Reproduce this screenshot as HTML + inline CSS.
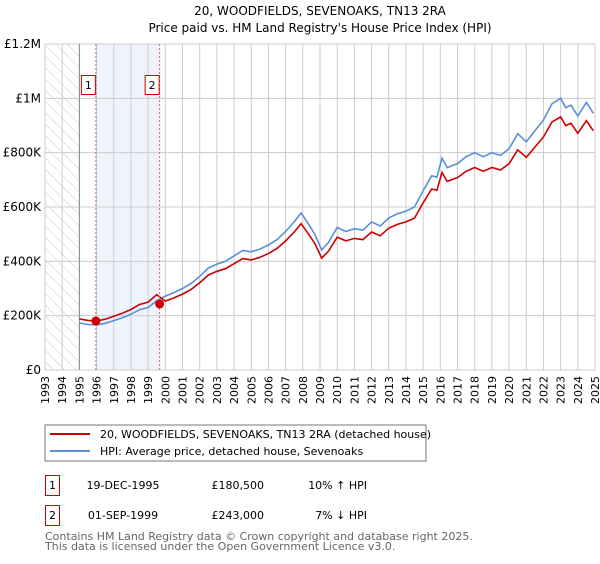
<!DOCTYPE html>
<html><head><meta charset="utf-8"><style>
body{margin:0;background:#fff;width:600px;height:560px;overflow:hidden;font-family:"DejaVu Sans","Liberation Sans",sans-serif}
svg text{font-family:"DejaVu Sans","Liberation Sans",sans-serif}
</style></head><body>
<svg id="c" width="600" height="560" xmlns="http://www.w3.org/2000/svg">
<defs><pattern id="hatch" width="8" height="8" patternUnits="userSpaceOnUse" patternTransform="rotate(-45)"><line x1="0" y1="0" x2="0" y2="8" stroke="#ccc" stroke-width="1"/></pattern></defs>
<text x="320" y="15" text-anchor="middle" font-size="12" fill="#000">20, WOODFIELDS, SEVENOAKS, TN13 2RA</text>
<text x="320" y="32" text-anchor="middle" font-size="12" fill="#000">Price paid vs. HM Land Registry's House Price Index (HPI)</text>
<g id="plot"></g>
<rect x="45" y="425" width="381" height="36" fill="#fff" stroke="#777"/>
<line x1="50" y1="434" x2="90" y2="434" stroke="#cc0000" stroke-width="2"/>
<text x="100" y="438" font-size="11">20, WOODFIELDS, SEVENOAKS, TN13 2RA (detached house)</text>
<line x1="50" y1="451" x2="90" y2="451" stroke="#5b8fd6" stroke-width="2"/>
<text x="100" y="455" font-size="11">HPI: Average price, detached house, Sevenoaks</text>
<g font-size="11">
<rect x="45.5" y="475.5" width="14" height="20" fill="none" stroke="#cc0000"/>
<text x="52.5" y="489" text-anchor="middle">1</text>
<text x="123" y="489" text-anchor="middle">19-DEC-1995</text>
<text x="264" y="489" text-anchor="end">£180,500</text>
<text x="367" y="489" text-anchor="end">10% ↑ HPI</text>
<rect x="45.5" y="505.5" width="14" height="20" fill="none" stroke="#cc0000"/>
<text x="52.5" y="519" text-anchor="middle">2</text>
<text x="123" y="519" text-anchor="middle">01-SEP-1999</text>
<text x="264" y="519" text-anchor="end">£243,000</text>
<text x="367" y="519" text-anchor="end">7% ↓ HPI</text>
</g>
<text x="45" y="540" font-size="11" fill="#666">Contains HM Land Registry data © Crown copyright and database right 2025.</text>
<text x="45" y="550" font-size="11" fill="#666">This data is licensed under the Open Government Licence v3.0.</text>
</svg>
<script>
const hpiYears=[1995,1995.5,1996,1996.5,1997,1997.5,1998,1998.5,1999,1999.5,2000,2000.5,2001,2001.5,2002,2002.5,2003,2003.5,2004,2004.5,2005,2005.5,2006,2006.5,2007,2007.5,2007.9,2008.3,2008.7,2009.1,2009.5,2010,2010.5,2011,2011.5,2012,2012.5,2013,2013.5,2014,2014.5,2015,2015.5,2015.8,2016.1,2016.4,2017,2017.5,2018,2018.5,2019,2019.5,2020,2020.5,2021,2021.5,2022,2022.5,2023,2023.3,2023.6,2024,2024.5,2024.9];
const hpiValues=[173,168,166,172,182,192,205,222,230,255,272,285,300,318,345,375,390,400,420,440,435,445,460,480,510,545,578,540,500,442,470,525,510,520,515,545,530,560,575,585,600,660,715,710,780,745,760,785,800,785,800,790,815,870,840,880,920,980,1000,965,975,935,985,945];
const saleYears=[1995.96,1999.67];
const salePrices=[180500,243000];
const saleLabels=["1","2"];
const yTicks=[0,200000,400000,600000,800000,1000000,1200000];
const yTickLabels=["£0","£200K","£400K","£600K","£800K","£1M","£1.2M"];
const xTicks=[1993,1994,1995,1996,1997,1998,1999,2000,2001,2002,2003,2004,2005,2006,2007,2008,2009,2010,2011,2012,2013,2014,2015,2016,2017,2018,2019,2020,2021,2022,2023,2024,2025];
const X0=45,X1=595,Y0=370,Y1=44;
const xs=t=>X0+(t-1993)/(2025-1993)*(X1-X0);
const ys=v=>Y0-v/1200000*(Y0-Y1);
const NS="http://www.w3.org/2000/svg";
const g=document.getElementById('plot');
function mk(tag,attrs,parent){const e=document.createElementNS(NS,tag);for(const k in attrs)e.setAttribute(k,attrs[k]);(parent||g).appendChild(e);return e;}
let e;
e=mk('rect',{x:X0,y:Y1,width:xs(1995)-X0,height:Y0-Y1,fill:'url(#hatch)'});


e=mk('rect',{x:xs(saleYears[0]),y:Y1,width:xs(saleYears[1])-xs(saleYears[0]),height:Y0-Y1,fill:'#eef3fc'});


xTicks.forEach(t=>{
 e=mk('line',{x1:xs(t),x2:xs(t),y1:Y1,y2:Y0,stroke:'#ccc'});
 
 
 e=mk('text',{x:0,y:0,'font-size':11,'text-anchor':'end',transform:`translate(${xs(t)+4},${Y0+6}) rotate(-90)`});
 e.textContent=t;
 
 
});
yTicks.forEach((v,i)=>{
 e=mk('line',{x1:X0,x2:X1,y1:ys(v),y2:ys(v),stroke:'#ccc'});
 
 
 e=mk('text',{x:X0-4,y:ys(v)+4,'font-size':12,'text-anchor':'end'});
 e.textContent=yTickLabels[i];
 
 
});
e=mk('line',{x1:xs(1995),x2:xs(1995),y1:Y1,y2:Y0,stroke:'#888'});


// hpi line
let hp=hpiYears.map((t,i)=>`${xs(t).toFixed(1)},${ys(hpiValues[i]*1000).toFixed(1)}`).join(' ');
e=mk('polyline',{points:hp,fill:'none',stroke:'#5b8fd6','stroke-width':1.6});


// price line: indexed from sales
function hpiAt(t){for(let i=1;i<hpiYears.length;i++){if(t<=hpiYears[i]){const f=(t-hpiYears[i-1])/(hpiYears[i]-hpiYears[i-1]);return (hpiValues[i-1]+f*(hpiValues[i]-hpiValues[i-1]))*1000;}}return hpiValues[hpiValues.length-1]*1000;}
const r1=salePrices[0]/hpiAt(saleYears[0]),r2=salePrices[1]/hpiAt(saleYears[1]);
let rp=hpiYears.map((t,i)=>{const r=t<saleYears[1]?r1:r2;return `${xs(t).toFixed(1)},${ys(hpiValues[i]*1000*r).toFixed(1)}`;}).join(' ');
e=mk('polyline',{points:rp,fill:'none',stroke:'#cc0000','stroke-width':1.6});


saleYears.forEach((t,i)=>{
 e=mk('line',{x1:xs(t),x2:xs(t),y1:Y1,y2:Y0,stroke:'#e06060','stroke-dasharray':'2,2'});
 
 
 e=mk('circle',{cx:xs(t),cy:ys(salePrices[i]),r:4.5,fill:'#cc0000'});
 
 
 e=mk('rect',{x:xs(t)-14.5,y:75.5,width:14,height:19,fill:'#fff',stroke:'#cc0000'});
 
 
 e=mk('text',{x:xs(t)-7.5,y:89,'font-size':11,'text-anchor':'middle'});
 e.textContent=saleLabels[i];
 
 
});
</script>
</body></html>
